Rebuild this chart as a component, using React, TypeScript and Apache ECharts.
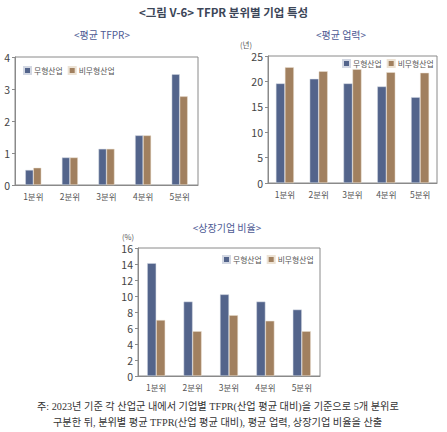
import React, { useEffect, useRef } from "react";
import * as echarts from "echarts";

const categories = ["1분위", "2분위", "3분위", "4분위", "5분위"];
const seriesNames = ["무형산업", "비무형산업"];

const tfprIntangible = [0.47, 0.86, 1.13, 1.55, 3.46];
const tfprOther = [0.54, 0.86, 1.13, 1.55, 2.77];

const ageIntangible = [19.6, 20.5, 19.6, 19.0, 16.9];
const ageOther = [22.8, 22.0, 22.4, 21.8, 21.7];

const listedIntangible = [14.1, 9.3, 10.2, 9.3, 8.3];
const listedOther = [7.0, 5.6, 7.6, 6.9, 5.6];

const mainTitle = "<그림 V-6> TFPR 분위별 기업 특성";
const subTitles = ["<평균 TFPR>", "<평균 업력>", "<상장기업 비율>"];
const unitLabels = ["(년)", "(%)"];
const noteLines = [
  "주: 2023년 기준 각 산업군 내에서 기업별 TFPR(산업 평균 대비)을 기준으로 5개 분위로",
  "구분한 뒤, 분위별 평균 TFPR(산업 평균 대비), 평균 업력, 상장기업 비율을 산출",
];

const BLUE = "#53648b";
const BROWN = "#a1805f";
const FONT = "'Noto Sans CJK KR', 'Noto Sans', sans-serif";

export default function App() {
  const ref = useRef<HTMLDivElement>(null);
  useEffect(() => {
    document.body.style.margin = "0";
    const chart = echarts.init(ref.current!, null, { renderer: "svg" });
    const grids = [
      { left: 15, top: 57, width: 183, height: 128 },
      { left: 268, top: 56, width: 169, height: 127 },
      { left: 138, top: 248, width: 182, height: 128 },
    ];
    const yCfg = [
      { max: 4, interval: 1 },
      { max: 25, interval: 5 },
      { max: 16, interval: 2 },
    ];
    const data = [
      [tfprIntangible, tfprOther],
      [ageIntangible, ageOther],
      [listedIntangible, listedOther],
    ];
    const barW = [8, 9, 9];
    const legendPos = [
      { left: 23, top: 66 },
      { left: 342, top: 59 },
      { left: 222, top: 255 },
    ];
    const series: any[] = [];
    data.forEach((pair, gi) => {
      pair.forEach((vals, si) => {
        series.push({
          type: "bar",
          name: seriesNames[si],
          xAxisIndex: gi,
          yAxisIndex: gi,
          data: vals,
          barWidth: barW[gi],
          barGap: "0%",
          itemStyle: {
            color: si === 0 ? BLUE : BROWN,
            borderColor: si === 0 ? "#d3d8e3" : "#ece2d4",
            borderWidth: 0.5,
          },
        });
      });
    });
    const option: any = {
      animation: false,
      textStyle: { fontFamily: FONT },
      grid: grids.map((g) => ({
        ...g,
        show: true,
        borderColor: "#8a8a8a",
        borderWidth: 1,
        backgroundColor: "transparent",
      })),
      xAxis: grids.map((_, i) => ({
        type: "category",
        gridIndex: i,
        data: categories,
        axisLine: { lineStyle: { color: "#8a8a8a" } },
        axisTick: { show: false },
        axisLabel: { color: "#555", fontSize: 8.5, margin: 7, fontFamily: FONT },
      })),
      yAxis: grids.map((_, i) => ({
        type: "value",
        gridIndex: i,
        min: 0,
        max: yCfg[i].max,
        interval: yCfg[i].interval,
        splitLine: { show: false },
        axisLine: { show: true, lineStyle: { color: "#8a8a8a" } },
        axisTick: { show: true, length: 3, lineStyle: { color: "#8a8a8a" } },
        axisLabel: { color: "#444", fontSize: 10.5, margin: 5, fontFamily: FONT },
      })),
      legend: legendPos.map((p) => ({
        ...p,
        orient: "horizontal",
        data: seriesNames,
        icon: "rect",
        itemWidth: 7,
        itemHeight: 7,
        itemGap: 5,
        padding: 0,
        selectedMode: false,
        textStyle: { fontSize: 7.8, color: "#555", padding: [0, 0, 0, -2], fontFamily: FONT },
      })),
      series,
      graphic: [
        {
          type: "text",
          left: "center",
          top: 6,
          style: {
            text: mainTitle,
            fontSize: 11.5,
            fontWeight: "bold",
            fill: "#3c4658",
            fontFamily: FONT,
          },
        },
        {
          type: "text",
          x: 102,
          y: 34,
          style: { text: subTitles[0], fontSize: 10, fill: "#4d5a94", align: "center", verticalAlign: "middle", fontFamily: FONT },
        },
        {
          type: "text",
          x: 341,
          y: 34,
          style: { text: subTitles[1], fontSize: 10, fill: "#4d5a94", align: "center", verticalAlign: "middle", fontFamily: FONT },
        },
        {
          type: "text",
          x: 227,
          y: 227,
          style: { text: subTitles[2], fontSize: 10, fill: "#4d5a94", align: "center", verticalAlign: "middle", fontFamily: FONT },
        },
        {
          type: "text",
          x: 246,
          y: 44,
          style: { text: unitLabels[0], fontSize: 7.5, fill: "#555", align: "center", verticalAlign: "middle", fontFamily: FONT },
        },
        {
          type: "text",
          x: 128,
          y: 236,
          style: { text: unitLabels[1], fontSize: 7.5, fill: "#555", align: "center", verticalAlign: "middle", fontFamily: FONT },
        },
        {
          type: "text",
          x: 37,
          y: 406,
          style: { text: noteLines[0], fontSize: 10.2, fill: "#333", verticalAlign: "middle", fontFamily: "'Liberation Serif', 'Noto Sans CJK KR', serif" },
        },
        {
          type: "text",
          x: 53,
          y: 422,
          style: { text: noteLines[1], fontSize: 10.2, fill: "#333", verticalAlign: "middle", fontFamily: "'Liberation Serif', 'Noto Sans CJK KR', serif" },
        },
      ],
    };
    chart.setOption(option);
    return () => chart.dispose();
  }, []);
  return (
    <div
      ref={ref}
      style={{ position: "fixed", left: 0, top: 0, width: 447, height: 432, background: "#fff" }}
    />
  );
}
